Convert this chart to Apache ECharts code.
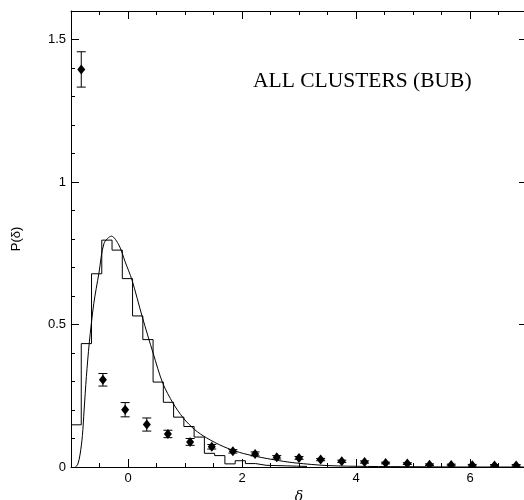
<!DOCTYPE html>
<html>
<head>
<meta charset="utf-8">
<script src="https://cdn.jsdelivr.net/npm/echarts@6/dist/echarts.min.js"></script>
<style>
  html, body { margin: 0; padding: 0; background: #fff; }
  #chart { width: 524px; height: 500px; }
</style>
</head>
<body>
<div id="chart"></div>
<script>
// histogram (bin edges + heights)
var histEdges = [-1.00, -0.82, -0.64, -0.46, -0.28, -0.10, 0.08, 0.26, 0.44, 0.62, 0.80, 0.98,
                 1.16, 1.34, 1.52, 1.70, 1.88, 2.06, 2.24, 2.42, 2.60, 2.78, 2.96, 3.14];
var histHeights = [0.148, 0.433, 0.678, 0.796, 0.761, 0.661, 0.530, 0.447, 0.298, 0.227, 0.175,
                   0.142, 0.105, 0.048, 0.040, 0.011, 0.022, 0.012, 0.006, 0.005, 0.004, 0.003, 0.002];

// model curve
var curveX = [-0.92, -0.88, -0.84, -0.80, -0.77, -0.73, -0.68, -0.60, -0.51, -0.42, -0.29, -0.16,
              -0.05, 0.07, 0.25, 0.44, 0.61, 0.79, 0.97, 1.17, 1.38, 1.67, 1.96, 2.25, 2.66, 2.95,
              3.5, 4.2, 5.0, 6.0, 7.0];
var curveY = [0, 0.01, 0.045, 0.11, 0.20, 0.317, 0.434, 0.574, 0.68, 0.785, 0.81, 0.779,
              0.72, 0.656, 0.527, 0.40, 0.294, 0.224, 0.172, 0.131, 0.102, 0.072, 0.051, 0.037, 0.022, 0.014,
              0.005, 0.002, 0.001, 0, 0];

// points with error bars
var ptX = [-0.82, -0.44, -0.05, 0.33, 0.70, 1.09, 1.47, 1.84, 2.23, 2.61, 3.00, 3.38, 3.75, 4.15,
           4.52, 4.90, 5.29, 5.67, 6.04, 6.43, 6.81];
var ptY = [1.395, 0.306, 0.201, 0.149, 0.116, 0.088, 0.071, 0.055, 0.046, 0.034, 0.032, 0.026,
           0.020, 0.0175, 0.014, 0.012, 0.008, 0.007, 0.006, 0.0055, 0.0055];
var ptErr = [0.062, 0.022, 0.025, 0.023, 0.013, 0.012, 0.008, 0.006, 0.007, 0.006, 0.005, 0.004,
             0.004, 0.004, 0.003, 0.003, 0.003, 0.003, 0.003, 0.003, 0.003];

// ticks
var xMajor = [0, 2, 4, 6];
var xMinor = [-0.5, 0.5, 1, 1.5, 2.5, 3, 3.5, 4.5, 5, 5.5, 6.5];
var yMajor = [0, 0.5, 1, 1.5];
var yMinor = [0.1, 0.2, 0.3, 0.4, 0.6, 0.7, 0.8, 0.9, 1.1, 1.2, 1.3, 1.4];

var histData = [];
for (var i = 0; i < histHeights.length; i++) {
    histData.push([histEdges[i], histHeights[i]]);
}
histData.push([histEdges[histHeights.length], histHeights[histHeights.length - 1]]);
histData.push([histEdges[histHeights.length], 0]);

var curveData = curveX.map(function (x, i) { return [x, curveY[i]]; });
var ptData = ptX.map(function (x, i) { return [x, ptY[i], ptErr[i]]; });

var labelFont = { color: '#000', fontSize: 13, fontFamily: 'Liberation Sans' };
var frameLine = { show: true, onZero: false, lineStyle: { color: '#000', width: 1 } };

function xAxisOf(pos, ticks, len, opts) {
    var ax = {
        type: 'value', position: pos, min: -1, max: 7,
        axisLine: { show: false, onZero: false },
        axisTick: { show: true, inside: true, length: len, customValues: ticks,
                    lineStyle: { color: '#000', width: 1 } },
        axisLabel: { show: false },
        splitLine: { show: false }
    };
    return Object.assign(ax, opts || {});
}
function yAxisOf(pos, ticks, len, opts) {
    var ax = {
        type: 'value', position: pos, min: 0, max: 1.6,
        axisLine: { show: false, onZero: false },
        axisTick: { show: true, inside: true, length: len, customValues: ticks,
                    lineStyle: { color: '#000', width: 1 } },
        axisLabel: { show: false },
        splitLine: { show: false }
    };
    return Object.assign(ax, opts || {});
}

function renderPoint(params, api) {
    var x = api.value(0), y = api.value(1), e = api.value(2);
    var c = api.coord([x, y]);
    var hi = api.coord([x, y + e]);
    var lo = api.coord([x, y - e]);
    var cap = 4.5;
    var st = { stroke: '#000', lineWidth: 1 };
    return {
        type: 'group',
        children: [
            { type: 'line', shape: { x1: c[0], y1: hi[1], x2: c[0], y2: lo[1] }, style: st },
            { type: 'line', shape: { x1: c[0] - cap, y1: hi[1], x2: c[0] + cap, y2: hi[1] }, style: st },
            { type: 'line', shape: { x1: c[0] - cap, y1: lo[1], x2: c[0] + cap, y2: lo[1] }, style: st },
            { type: 'polygon',
              shape: { points: [[c[0], c[1] - 5], [c[0] + 4, c[1]], [c[0], c[1] + 5], [c[0] - 4, c[1]]] },
              style: { fill: '#000' } }
        ]
    };
}

var chart = echarts.init(document.getElementById('chart'));
chart.setOption({
    backgroundColor: '#fff',
    animation: false,
    grid: { left: 71, right: -3, top: 11, bottom: 33, outerBoundsMode: 'none', containLabel: false },
    graphic: [{
        type: 'text', left: 253, top: 70,
        style: { text: 'ALL CLUSTERS (BUB)', fill: '#000', fontSize: 21.5, fontFamily: 'Liberation Serif' }
    }],
    xAxis: [
        xAxisOf('bottom', xMajor, 8, {
            axisLine: frameLine,
            axisLabel: Object.assign({ show: true, margin: 5, customValues: xMajor }, labelFont),
            name: 'δ', nameLocation: 'middle', nameGap: 19,
            nameTextStyle: { color: '#000', fontSize: 14, fontStyle: 'italic', fontFamily: 'DejaVu Serif' }
        }),
        xAxisOf('bottom', xMinor, 4),
        xAxisOf('top', xMajor, 8, { axisLine: frameLine }),
        xAxisOf('top', xMinor, 4)
    ],
    yAxis: [
        yAxisOf('left', yMajor, 8, {
            axisLine: frameLine,
            axisLabel: Object.assign({ show: true, margin: 5, customValues: yMajor }, labelFont),
            name: 'P(δ)', nameLocation: 'middle', nameGap: 48,
            nameTextStyle: { color: '#000', fontSize: 13, fontFamily: 'Liberation Sans' }
        }),
        yAxisOf('left', yMinor, 4),
        yAxisOf('right', yMajor, 8, { axisLine: frameLine })
    ],
    series: [
        {
            type: 'line', name: 'hist', data: histData, step: 'end',
            showSymbol: false, symbol: 'none',
            lineStyle: { color: '#000', width: 1 }
        },
        {
            type: 'line', name: 'model', data: curveData, smooth: 0.3,
            showSymbol: false, symbol: 'none',
            lineStyle: { color: '#000', width: 1 }
        },
        {
            type: 'custom', name: 'points', data: ptData, renderItem: renderPoint,
            clip: true, encode: { x: 0, y: 1 }
        }
    ]
});
</script>
</body>
</html>
